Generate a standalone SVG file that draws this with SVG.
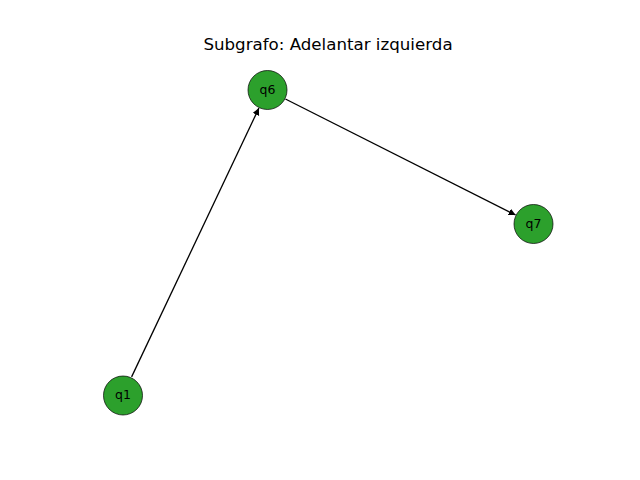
<svg xmlns="http://www.w3.org/2000/svg" width="640" height="480" viewBox="0 0 640 480">
<style>
.node circle{fill:#2ca02c;stroke:#000;stroke-width:0.7}
.node text{font-family:"DejaVu Sans",sans-serif;font-size:12.5px;fill:#000;text-anchor:middle;dominant-baseline:central}
.edge{stroke:#000;stroke-width:1.3;fill:none}
.title{font-family:"DejaVu Sans",sans-serif;font-size:16.67px;fill:#000;text-anchor:middle}
</style>
<defs>
<marker id="ah" markerUnits="userSpaceOnUse" markerWidth="9" markerHeight="8" refX="7" refY="3.5" orient="auto">
<path d="M0,0 L7,3.5 L0,7 z" fill="#000"/>
</marker>
</defs>
<rect width="640" height="480" fill="#fff"/>
<text class="title" x="328" y="49.5">Subgrafo: Adelantar izquierda</text>
<g id="connectors">
<line class="edge" x1="131.6" y1="376.9" x2="258.9" y2="108.1" marker-end="url(#ah)"/>
<line class="edge" x1="285.4" y1="99" x2="515.6" y2="215" marker-end="url(#ah)"/>
</g>
<g id="q6" class="node"><circle cx="267.5" cy="90" r="19.5"/><text x="267.5" y="89">q6</text></g>
<g id="q7" class="node"><circle cx="533.5" cy="224" r="19.5"/><text x="533.5" y="223">q7</text></g>
<g id="q1" class="node"><circle cx="123" cy="395.5" r="19.5"/><text x="123" y="394.5">q1</text></g>
</svg>
